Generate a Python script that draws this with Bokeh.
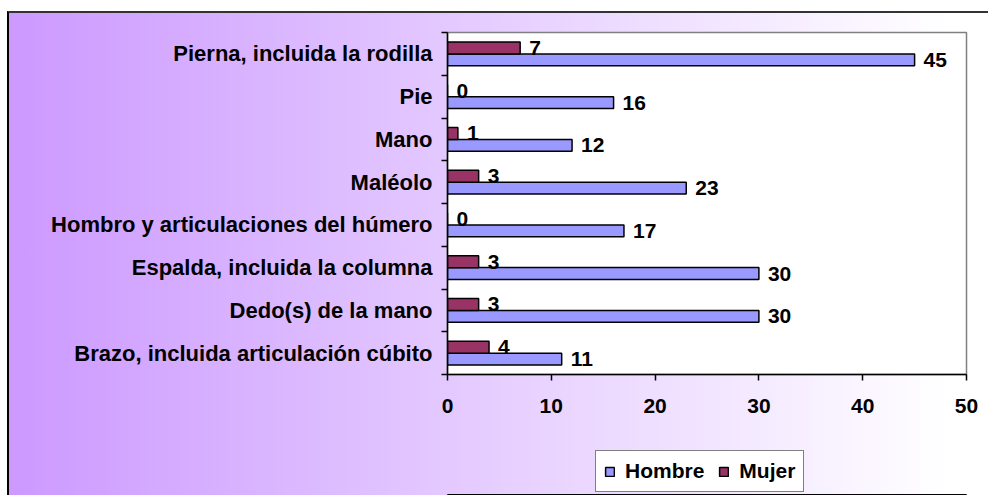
from bokeh.plotting import figure
from bokeh.layouts import column
from bokeh.models import (ColumnDataSource, Range1d, LinearAxis,
                          FixedTicker, Legend, LegendItem)
from bokeh.transform import dodge
from bokeh.core.properties import value
from bokeh.embed import file_html
from bokeh.resources import INLINE

categories = [
    "Brazo, incluida articulación cúbito",
    "Dedo(s) de la mano",
    "Espalda, incluida la columna",
    "Hombro y articulaciones del húmero",
    "Maléolo",
    "Mano",
    "Pie",
    "Pierna, incluida la rodilla",
]
hombre = [11, 30, 30, 17, 23, 12, 16, 45]
mujer = [4, 3, 3, 0, 3, 1, 0, 7]
x_ticks = [0, 10, 20, 30, 40, 50]
series_names = ["Hombre", "Mujer"]
series_fields = ["hombre", "mujer"]
series_colors = ["#9999FF", "#993366"]

FONT_NAME = "Liberation Sans"
FONT = value(FONT_NAME)

n = len(categories)
centers = [i + 0.5 for i in range(n)]   # category band centres on a numeric axis
bounds = list(range(n + 1))             # category band boundaries

src = ColumnDataSource(dict(
    pos=centers, hombre=hombre, mujer=mujer,
    hl=[str(v) for v in hombre], ml=[str(v) for v in mujer],
))

p = figure(
    width=979, height=427,
    y_range=Range1d(0, n),
    x_range=Range1d(0, 50),
    output_backend="svg", toolbar_location=None,
    y_axis_location=None,
    min_border_left=438, min_border_right=22,
    min_border_top=19, min_border_bottom=66,
    border_fill_color=None,
    background_fill_color="white",
    outline_line_color="#808080", outline_line_width=1.5,
)
p.grid.visible = False

# y axis: tick marks at category boundaries (no labels)
tick_axis = LinearAxis(
    ticker=FixedTicker(ticks=bounds),
    major_tick_out=6, major_tick_in=0,
    minor_tick_line_color=None,
    major_label_standoff=0,
    major_label_overrides={b: "" for b in bounds},
    axis_line_color="black", axis_line_width=1.5,
    major_tick_line_color="black", major_tick_line_width=1.5,
)
# y axis: category names at band centres (no line, no ticks)
lab_axis = LinearAxis(
    ticker=FixedTicker(ticks=centers),
    major_label_overrides={c: name for c, name in zip(centers, categories)},
    axis_line_color=None, minor_tick_line_color=None,
    major_tick_line_color=None, major_tick_out=0, major_tick_in=0,
    major_label_standoff=9,
    major_label_text_font=FONT_NAME, major_label_text_font_style="bold",
    major_label_text_font_size="22px", major_label_text_color="black",
)
p.add_layout(tick_axis, "left")
p.add_layout(lab_axis, "left")

# x axis
xa = p.xaxis[0]
xa.ticker = FixedTicker(ticks=x_ticks)
xa.major_tick_out = 6
xa.major_tick_in = 0
xa.minor_tick_line_color = None
xa.axis_line_color = "black"
xa.axis_line_width = 1.5
xa.major_tick_line_color = "black"
xa.major_tick_line_width = 1.5
xa.major_label_standoff = 18
xa.major_label_text_font = FONT_NAME
xa.major_label_text_font_style = "bold"
xa.major_label_text_font_size = "21px"
xa.major_label_text_color = "black"

p.hbar(y=dodge("pos", -0.14), left=0, right="hombre",
       height=0.28, source=src, fill_color=series_colors[0],
       line_color="black", line_width=1.5)
p.hbar(y=dodge("pos", 0.14), left=0, right="mujer",
       height=0.28, source=src, fill_color=series_colors[1],
       line_color="black", line_width=1.5)

common = dict(x_offset=9, text_baseline="middle", text_align="left",
              text_font=FONT, text_font_style="bold",
              text_font_size="21px", text_color="black", source=src)
p.text(x="hombre", y=dodge("pos", -0.14), text="hl", **common)
p.text(x="mujer", y=dodge("pos", 0.14), text="ml", **common)

# legend strip below the chart (transparent figure holding only the legend;
# its glyph renderers lie outside its visible range, so only the legend shows)
p2 = figure(
    width=979, height=55,
    x_range=Range1d(0, 1), y_range=Range1d(100, 101),
    output_backend="svg", toolbar_location=None,
    x_axis_location=None, y_axis_location=None,
    min_border=0, border_fill_color=None, background_fill_color=None,
    outline_line_color=None,
)
p2.grid.visible = False
leg_renderers = [
    p2.hbar(y="pos", right=f, left=0, height=0.28, source=src,
            fill_color=c, line_color="black", line_width=1.5)
    for f, c in zip(series_fields, series_colors)
]
legend = Legend(
    items=[LegendItem(label=name, renderers=[r])
           for name, r in zip(series_names, leg_renderers)],
    orientation="horizontal", location=(148, 3),
    border_line_color="black", border_line_width=1,
    background_fill_color="white", background_fill_alpha=1,
    label_text_font=FONT_NAME, label_text_font_style="bold",
    label_text_font_size="21px", label_text_color="black",
    glyph_width=11, glyph_height=11, label_standoff=10,
    spacing=14, padding=8, margin=0,
)
p2.add_layout(legend, "center")

layout = column(
    p, p2, spacing=0,
    styles={
        "margin-top": "11px",
        "margin-left": "7px",
        "border-left": "2px solid #000000",
        "border-top": "2px solid #333333",
        "background": "linear-gradient(to right, #CC99FF 0%, #FFFFFF 96%)",
    },
)

open("out.html", "w").write(file_html(layout, INLINE))
